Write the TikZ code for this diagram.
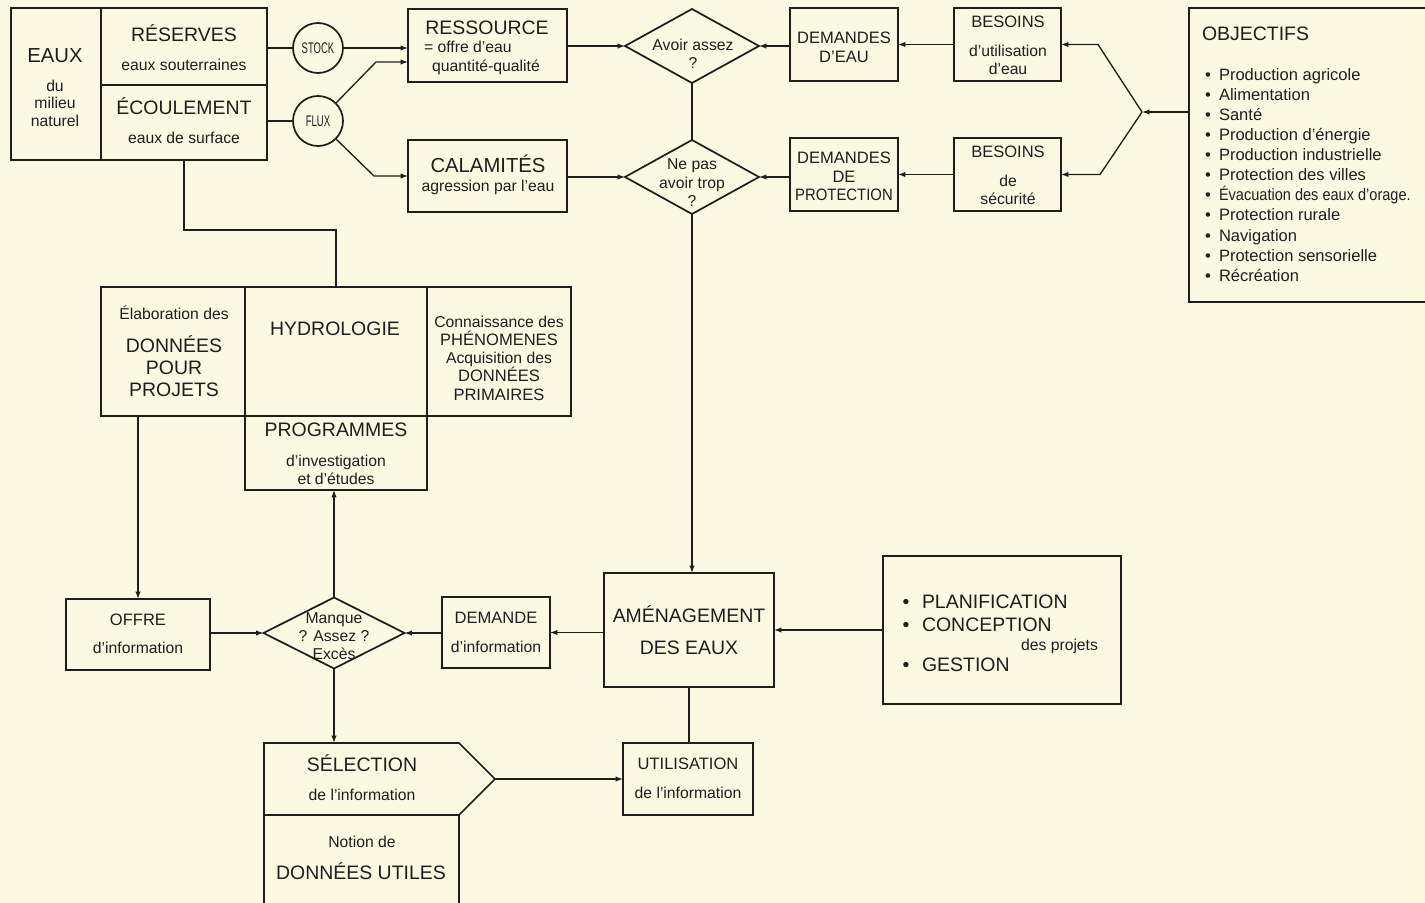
\documentclass[tikz,border=0pt]{standalone}
\usepackage{fontspec}
\setmainfont{Liberation Sans}
\usepackage{graphicx}
\usetikzlibrary{arrows.meta,shapes.geometric}
\definecolor{paperA}{RGB}{252,249,227}
\definecolor{paperB}{RGB}{248,238,160}
\definecolor{ink}{RGB}{30,30,30}
\pgfdeclarehorizontalshading{paper}{100bp}{color(0bp)=(paperA); color(74bp)=(paperA); color(100bp)=(paperB)}
\newcommand\rbox[5]{\node[box, minimum width={(#4-#2)*0.75pt}, minimum height={(#5-#3)*0.75pt}] (#1) at ({(#2+#4)/2},{(#3+#5)/2}) {};}
\tikzset{
 box/.style={draw=ink, line width=1.3pt, inner sep=0pt, outer sep=0pt},
 outline/.style={draw=ink, line width=1.3pt},
 dia/.style={box, diamond, shape aspect=1},
 circ/.style={box, circle, minimum size=37.5pt},
 con/.style={draw=ink, line width=1pt},
 arr/.style={con, -{Latex[length=5.5pt,width=4pt]}},
 lbl/.style={text=ink, inner sep=0pt, outer sep=0pt, text height=0.8em, text depth=0pt},
 fbig/.style={lbl, font=\fontsize{14.6}{17}\selectfont},
 fmed/.style={lbl, font=\fontsize{12.4}{15}\selectfont},
 fsml/.style={lbl, font=\fontsize{11.8}{14}\selectfont},
 fcirc/.style={lbl, font=\fontsize{11.5}{13}\selectfont},
}
\begin{document}
\begin{tikzpicture}[x=0.75pt,y=-0.75pt]
\shade[shading=paper] (0,0) rectangle (1425,903);
\useasboundingbox (0,0) rectangle (1425,903);

% ---------- boxes ----------
\rbox{eaux}{11}{8}{101}{160}
\rbox{res}{101}{8}{267}{85}
\rbox{eco}{101}{85}{267}{160}
\node[circ] (stock) at (318,48) {};
\node[circ] (flux) at (318,121) {};
\rbox{ress}{408}{9}{567}{82}
\rbox{cal}{408}{140}{567}{212}
\node[dia, minimum width=100.5pt, minimum height=55.5pt] (dA) at (692,46) {};
\node[dia, minimum width=100.5pt, minimum height=55.5pt] (dB) at (692,177) {};
\rbox{demE}{790}{8}{898}{81}
\rbox{besU}{954}{8}{1061}{81}
\rbox{demP}{790}{138}{898}{211}
\rbox{besS}{954}{138}{1061}{211}
\rbox{obj}{1189}{8}{1430}{302}
\rbox{hydL}{101}{287}{245}{416}
\rbox{hydC}{245}{287}{427}{416}
\rbox{hydR}{427}{287}{571}{416}
\rbox{prog}{245}{416}{427}{490}
\rbox{offre}{66}{599}{210}{670}
\node[dia, minimum width=105.75pt, minimum height=53.25pt] (dC) at (334,633) {};
\rbox{demI}{442}{597}{550}{668}
\rbox{amen}{604}{573}{774}{687}
\rbox{plan}{883}{556}{1121}{704}
\rbox{util}{623}{743}{753}{815}
\node[inner sep=0pt, outer sep=0pt, minimum width=173.25pt, minimum height=54pt] (sel) at (379.5,779) {};
\draw[outline] (sel.north west) -- ([xshift=-27pt]sel.north east) -- (sel.east) -- ([xshift=-27pt]sel.south east) -- (sel.south west) -- cycle;
\rbox{don}{264}{815}{459}{912}

% ---------- connectors ----------
\draw[con] (res.east |- stock.west) -- (stock.west);
\draw[con] (eco.east |- flux.west) -- (flux.west);
\draw[arr] (stock.east) -- (ress.west |- stock.east);
\coordinate (f1) at (376,62);
\coordinate (f2) at (374,176);
\draw[arr] (flux.45) -- (f1) -- (f1 -| ress.west);
\draw[arr] (flux.-45) -- (f2) -- (f2 -| cal.west);
\draw[arr] (ress.east |- dA.west) -- (dA.west);
\draw[arr] (cal.east |- dB.west) -- (dB.west);
\draw[con] (dA.south) -- (dB.north);
\draw[arr] (dB.south) -- (dB.south |- amen.north);
\draw[arr] (demE.west |- dA.east) -- (dA.east);
\draw[arr] (besU.west) -- (demE.east);
\draw[arr] (demP.west |- dB.east) -- (dB.east);
\draw[arr] (besS.west) -- (demP.east);
\coordinate (J) at (1142,112);
\coordinate (c1) at (1098,44.5);
\coordinate (c2) at (1100,174.5);
\draw[arr] (obj.west |- J) -- (J);
\draw[arr] (J) -- (c1) -- (c1 -| besU.east);
\draw[arr] (J) -- (c2) -- (c2 -| besS.east);
\coordinate (h1) at (184,230);
\draw[con] (eco.south) -- (eco.south |- h1) -- (hydC.north |- h1) -- (hydC.north);
\draw[arr] (offre.north |- hydL.south) -- (offre.north);
\draw[arr] (offre.east |- dC.west) -- (dC.west);
\draw[arr] (demI.west |- dC.east) -- (dC.east);
\draw[arr] (dC.north) -- (dC.north |- prog.south);
\draw[arr] (dC.south) -- (dC.south |- sel.north);
\draw[arr] (amen.west |- demI.east) -- (demI.east);
\draw[arr] (plan.west |- amen.east) -- (amen.east);
\draw[con] (amen.south) -- (amen.south |- util.north);
\draw[arr] (sel.east) -- (util.west);

% ---------- texts ----------
\node[fbig] (t1) at (55,57) {\fontsize{15.2}{17}\selectfont EAUX};
\node[fsml] (t2) at (55,86) {du};
\node[fsml] (t3) at (55,103) {milieu};
\node[fsml] (t4) at (55,121) {naturel};
\node[fbig] (t5) at (184,36) {RÉSERVES};
\node[fsml] (t6) at (184,65) {eaux souterraines};
\node[fbig] (t7) at (184,109) {ÉCOULEMENT};
\node[fsml] (t8) at (184,138) {eaux de surface};
\node[fcirc] (t9) at (318,48) {\scalebox{0.62}[1]{STOCK}};
\node[fcirc] (t10) at (318,121) {\scalebox{0.62}[1]{FLUX}};
\node[fbig] (t11) at (487,29) {RESSOURCE};
\node[fsml, anchor=west] (t12) at (424,47) {= offre d’eau};
\node[fsml] (t13) at (486,66) {quantité-qualité};
\node[fbig] (t14) at (488,167) {\fontsize{15.2}{17}\selectfont CALAMITÉS};
\node[fsml] (t15) at (488,186) {agression par l’eau};
\node[fsml] (t16) at (693,45) {Avoir assez};
\node[fsml] (t17) at (693,63) {?};
\node[fsml] (t18) at (692,164) {Ne pas};
\node[fsml] (t19) at (692,183) {avoir trop};
\node[fsml] (t20) at (692,201) {?};
\node[fmed] (t21) at (844,38) {DEMANDES};
\node[fmed] (t22) at (844,57) {D’EAU};
\node[fmed] (t23) at (1008,22) {BESOINS};
\node[fsml] (t24) at (1008,51) {d’utilisation};
\node[fsml] (t25) at (1008,69) {d’eau};
\node[fmed] (t26) at (844,158) {DEMANDES};
\node[fmed] (t27) at (844,177) {DE};
\node[fmed] (t28) at (844,195) {\scalebox{0.9}[1]{PROTECTION}};
\node[fmed] (t29) at (1008,152) {BESOINS};
\node[fsml] (t30) at (1008,181) {de};
\node[fsml] (t31) at (1008,199) {sécurité};
\node[fbig, anchor=west] (t32) at (1202,35) {OBJECTIFS};
\foreach \yy/\tt [count=\i] in {75/Production agricole, 95/Alimentation, 115/Santé, 135/Production d’énergie, 155/Production industrielle, 175/Protection des villes, 195/{\scalebox{0.88}[1]{Évacuation des eaux d’orage.}}, 215/Protection rurale, 236/Navigation, 256/Protection sensorielle, 276/Récréation}{
  \node[fmed] (ob\i) at (1208,\yy) {•};
  \node[fmed, anchor=west] (oi\i) at (1219,\yy) {\tt};
}
\node[fsml] (t33) at (174,314) {Élaboration des};
\node[fbig] (t34) at (174,347) {DONNÉES};
\node[fbig] (t35) at (174,369) {POUR};
\node[fbig] (t36) at (174,391) {PROJETS};
\node[fbig] (t37) at (335,330) {HYDROLOGIE};
\node[fsml] (t38) at (499,322) {Connaissance des};
\node[fmed] (t39) at (499,340) {PHÉNOMENES};
\node[fsml] (t40) at (499,358) {Acquisition des};
\node[fmed] (t41) at (499,376) {DONNÉES};
\node[fmed] (t42) at (499,395) {PRIMAIRES};
\node[fbig] (t43) at (336,431) {PROGRAMMES};
\node[fsml] (t44) at (336,461) {d’investigation};
\node[fsml] (t45) at (336,479) {et d’études};
\node[fmed] (t46) at (138,620) {OFFRE};
\node[fsml] (t47) at (138,648) {d’information};
\node[fsml] (t48) at (334,618) {Manque};
\node[fsml] (t49) at (334,636) {? Assez ?};
\node[fsml] (t50) at (334,654) {Excès};
\node[fmed] (t51) at (496,618) {DEMANDE};
\node[fsml] (t52) at (496,647) {d’information};
\node[fbig] (t53) at (689,617) {AMÉNAGEMENT};
\node[fbig] (t54) at (689,649) {DES EAUX};
\node[fbig] (t55) at (906,603) {•};
\node[fbig, anchor=west] (t56) at (922,603) {PLANIFICATION};
\node[fbig] (t57) at (906,626) {•};
\node[fbig, anchor=west] (t58) at (922,626) {CONCEPTION};
\node[fsml, anchor=east] (t59) at (1098,645) {des projets};
\node[fbig] (t60) at (906,666) {•};
\node[fbig, anchor=west] (t61) at (922,666) {GESTION};
\node[fmed] (t62) at (688,764) {UTILISATION};
\node[fsml] (t63) at (688,793) {de l’information};
\node[fbig] (t64) at (362,766) {SÉLECTION};
\node[fsml] (t65) at (362,795) {de l’information};
\node[fsml] (t66) at (362,842) {Notion de};
\node[fbig] (t67) at (361,874) {DONNÉES UTILES};
\end{tikzpicture}
\end{document}
